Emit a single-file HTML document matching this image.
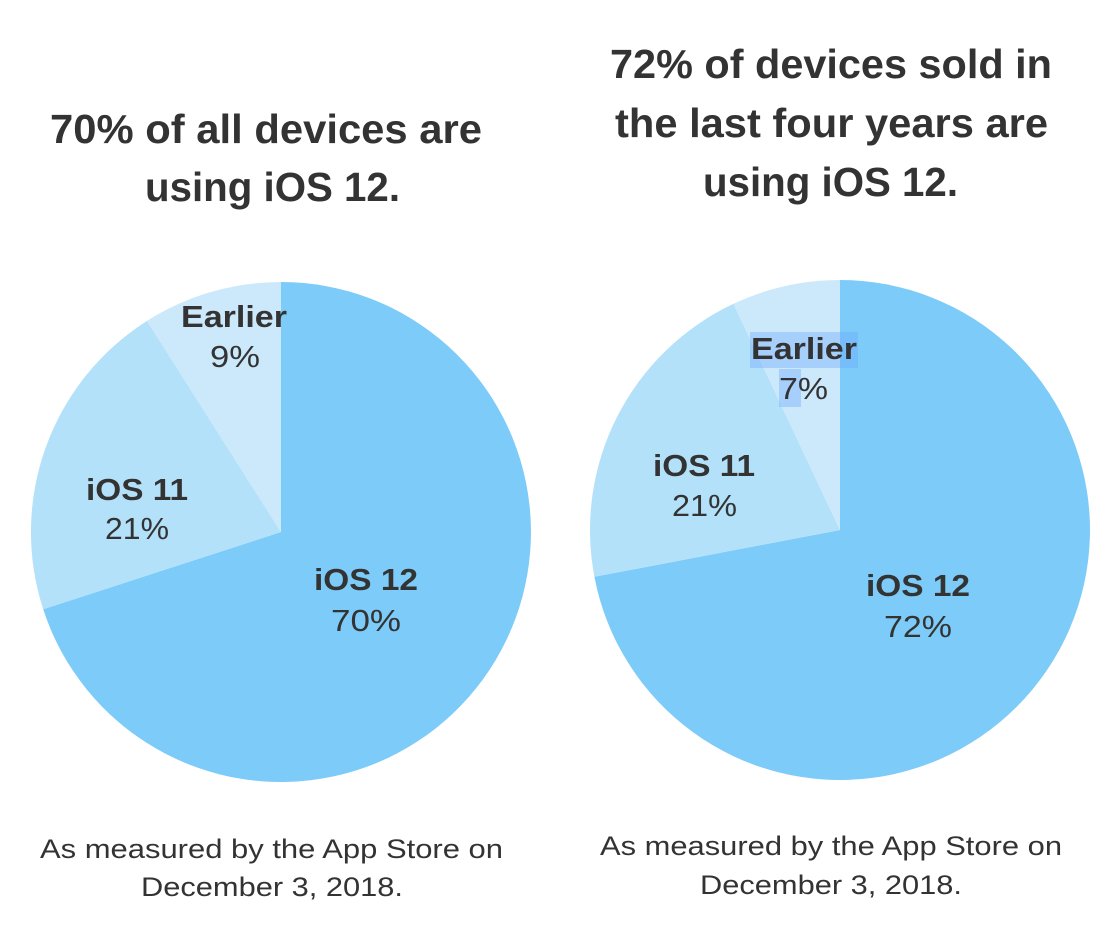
<!DOCTYPE html>
<html><head><meta charset="utf-8"><style>
html,body{margin:0;padding:0;background:#fff;}
svg{display:block;}
text{font-family:"Liberation Sans",sans-serif;fill:#333;}
</style></head><body>
<svg width="1100" height="930" viewBox="0 0 1100 930" xmlns="http://www.w3.org/2000/svg">
<g font-size="41" font-weight="bold" lengthAdjust="spacingAndGlyphs">
<text x="50" y="143" textLength="432" lengthAdjust="spacingAndGlyphs">70% of all devices are</text>
<text x="145" y="201" textLength="255" lengthAdjust="spacingAndGlyphs">using iOS 12.</text>
<text x="610" y="78" textLength="442" lengthAdjust="spacingAndGlyphs">72% of devices sold in</text>
<text x="615" y="137" textLength="433" lengthAdjust="spacingAndGlyphs">the last four years are</text>
<text x="703" y="196" textLength="255" lengthAdjust="spacingAndGlyphs">using iOS 12.</text>
</g>
<path d="M281,532 L281,282 A250,250 0 1 1 43.2,609.3 Z" fill="#7ccbf8"/>
<path d="M281,532 L43.2,609.3 A250,250 0 0 1 147,320.9 Z" fill="#b4e1fa"/>
<path d="M281,532 L147,320.9 A250,250 0 0 1 281,282 Z" fill="#cce9fb"/>
<path d="M840,530 L840,280 A250,250 0 1 1 594.4,576.8 Z" fill="#7ccbf8"/>
<path d="M840,530 L594.4,576.8 A250,250 0 0 1 733.5,303.8 Z" fill="#b4e1fa"/>
<path d="M840,530 L733.5,303.8 A250,250 0 0 1 840,280 Z" fill="#cce9fb"/>
<rect x="750" y="332" width="108" height="36" fill="#6fa8ff" opacity="0.4"/>
<rect x="779" y="369" width="22" height="38" fill="#6fa8ff" opacity="0.4"/>
<g font-size="31">
<text x="181" y="327" font-weight="bold" textLength="106" lengthAdjust="spacingAndGlyphs">Earlier</text>
<text x="210" y="367" textLength="50" lengthAdjust="spacingAndGlyphs">9%</text>
<text x="86" y="500" font-weight="bold" textLength="102" lengthAdjust="spacingAndGlyphs">iOS 11</text>
<text x="105" y="539" textLength="64" lengthAdjust="spacingAndGlyphs">21%</text>
<text x="314" y="590" font-weight="bold" textLength="104" lengthAdjust="spacingAndGlyphs">iOS 12</text>
<text x="331" y="631" textLength="70" lengthAdjust="spacingAndGlyphs">70%</text>
<text x="751" y="359" font-weight="bold" textLength="106" lengthAdjust="spacingAndGlyphs">Earlier</text>
<text x="779" y="399" textLength="49" lengthAdjust="spacingAndGlyphs">7%</text>
<text x="653" y="476" font-weight="bold" textLength="102" lengthAdjust="spacingAndGlyphs">iOS 11</text>
<text x="672" y="516" textLength="65" lengthAdjust="spacingAndGlyphs">21%</text>
<text x="866" y="596" font-weight="bold" textLength="104" lengthAdjust="spacingAndGlyphs">iOS 12</text>
<text x="884" y="637" textLength="68" lengthAdjust="spacingAndGlyphs">72%</text>
</g>
<g font-size="27">
<text x="40" y="858" textLength="463" lengthAdjust="spacingAndGlyphs">As measured by the App Store on</text>
<text x="141" y="896" textLength="262" lengthAdjust="spacingAndGlyphs">December 3, 2018.</text>
<text x="600" y="855" textLength="462" lengthAdjust="spacingAndGlyphs">As measured by the App Store on</text>
<text x="700" y="894" textLength="262" lengthAdjust="spacingAndGlyphs">December 3, 2018.</text>
</g>
</svg>
</body></html>
